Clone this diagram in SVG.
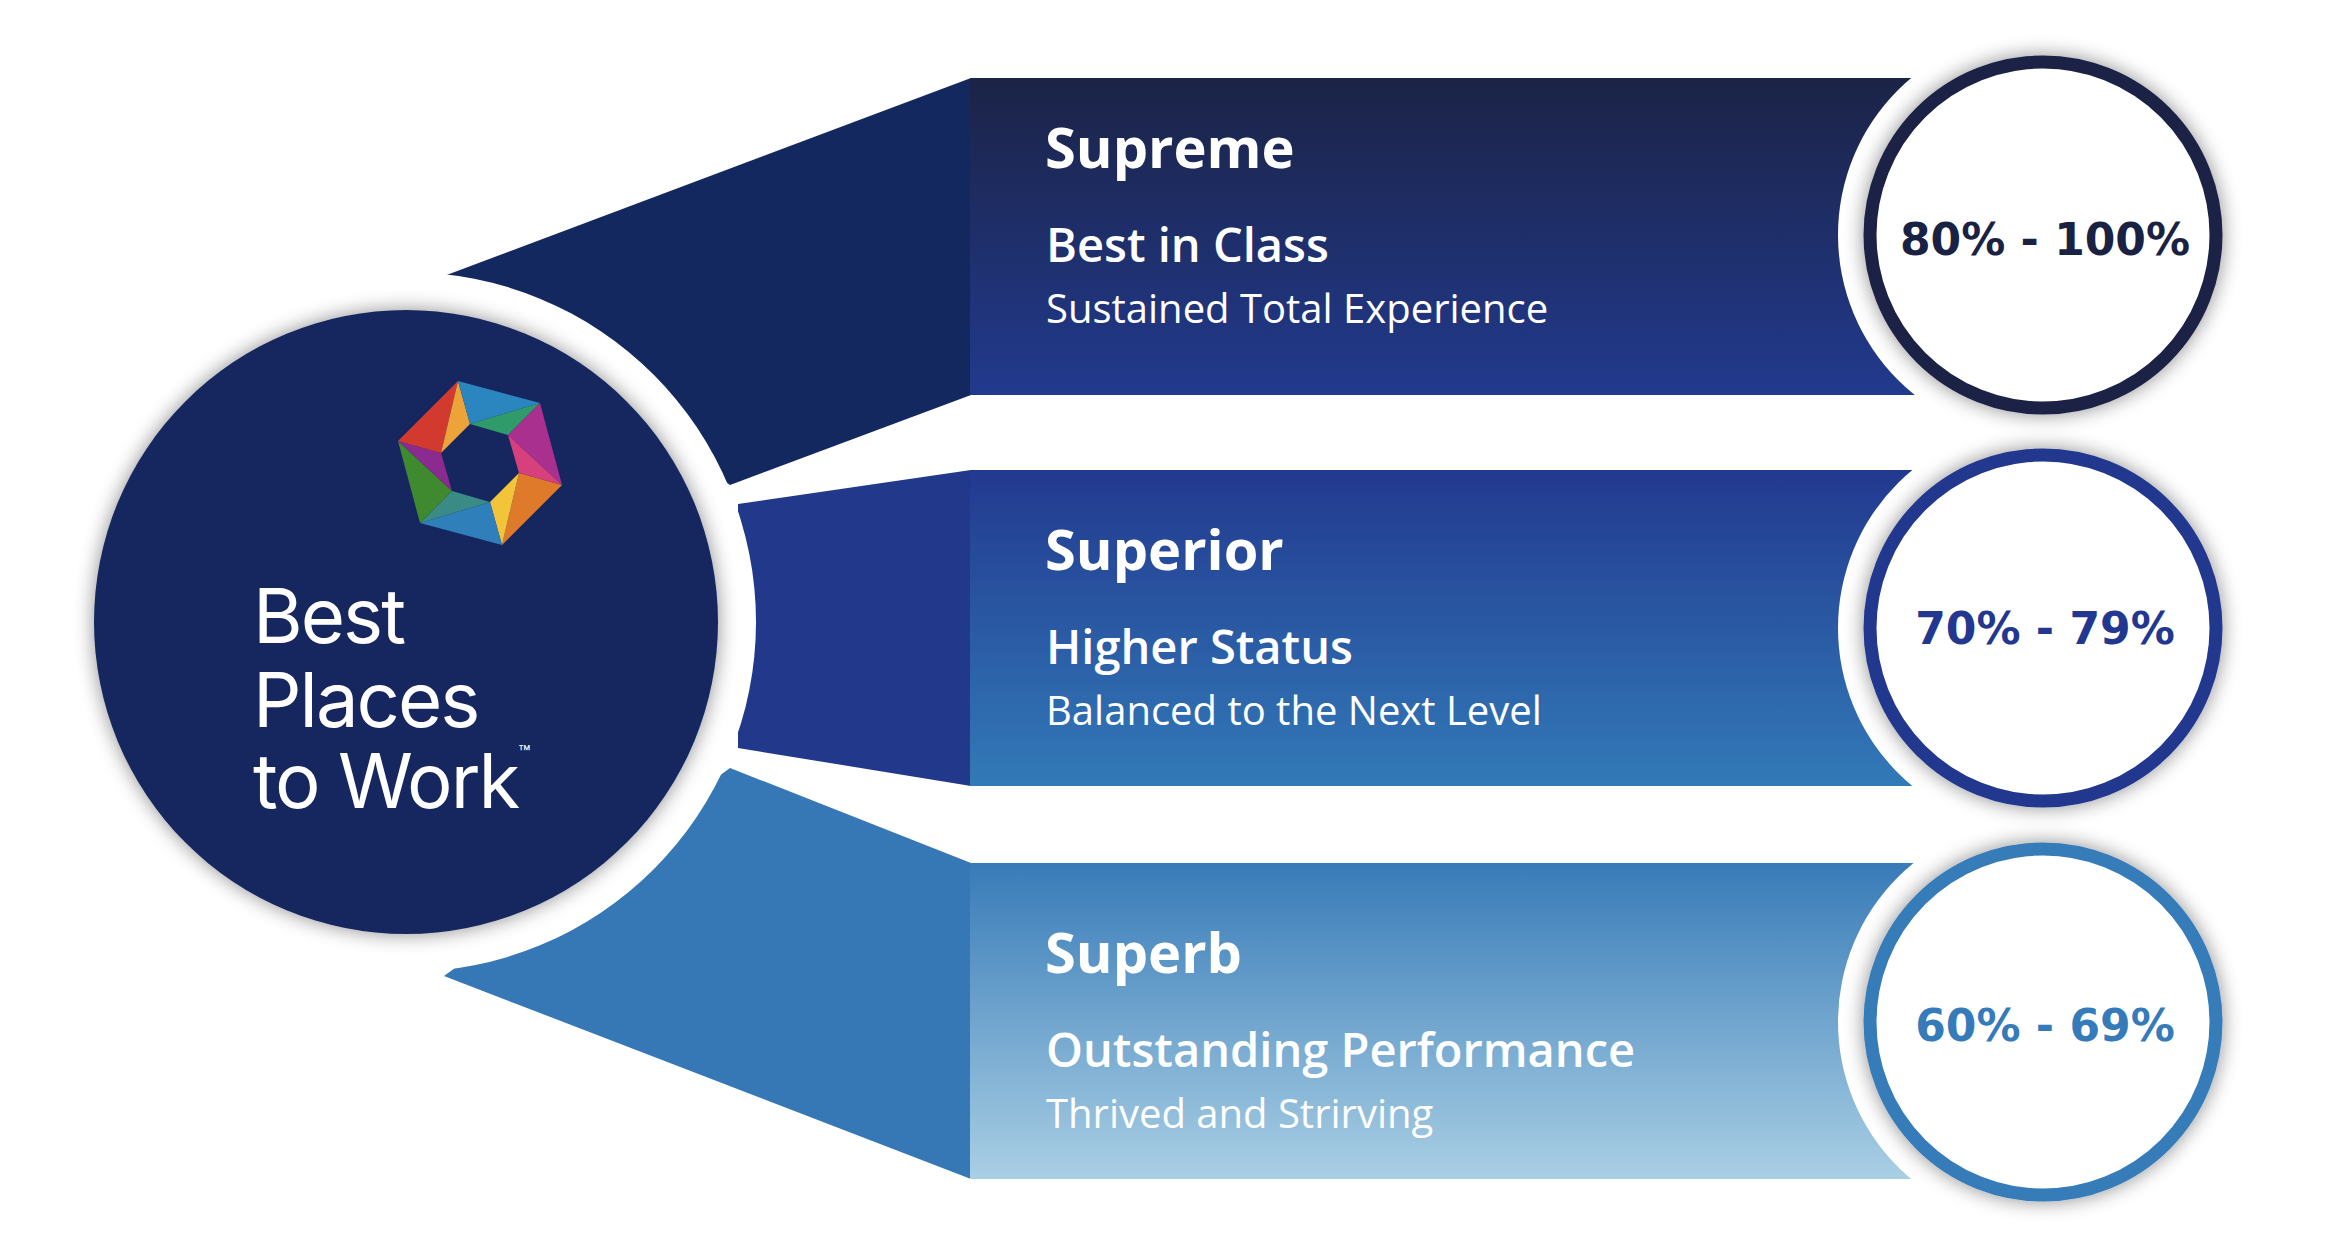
<svg xmlns="http://www.w3.org/2000/svg" width="2350" height="1254" viewBox="0 0 2350 1254">
<defs>
<linearGradient id="g1" x1="0" y1="0" x2="0" y2="1"><stop offset="0" stop-color="#1b2346"/><stop offset="1" stop-color="#223a8e"/></linearGradient>
<linearGradient id="g2" x1="0" y1="0" x2="0" y2="1"><stop offset="0" stop-color="#22398f"/><stop offset="1" stop-color="#327ab8"/></linearGradient>
<linearGradient id="g3" x1="0" y1="0" x2="0" y2="1"><stop offset="0" stop-color="#387bb8"/><stop offset="1" stop-color="#a9cfe4"/></linearGradient>
<filter id="sh" x="-20%" y="-20%" width="140%" height="140%"><feGaussianBlur in="SourceAlpha" stdDeviation="10"/><feOffset dx="0" dy="0"/><feComponentTransfer><feFuncA type="linear" slope="0.45"/></feComponentTransfer><feMerge><feMergeNode/><feMergeNode in="SourceGraphic"/></feMerge></filter>
<style>
.t{font-family:"Open Sans","Noto Sans",sans-serif;fill:#fff}
.h{font-weight:700;font-size:56px}
.s{font-weight:600;font-size:47px}
.d{font-size:40px}
.p{font-family:"DejaVu Sans",sans-serif;font-weight:700;font-size:44px;text-anchor:middle}
.ring{fill:#fff;stroke-width:13;filter:url(#sh)}
.halo{fill:#fff}
.lg{font-family:Inter,Roboto,sans-serif;fill:#fff;font-size:76px;letter-spacing:-2px}
</style>
</defs>
<rect width="2350" height="1254" fill="#fff"/>
<g id="connectors">
<polygon points="444,276 971,78 971,395 730,485" fill="#13285e"/>
<polygon points="738,504 971,470 971,786 738,748" fill="#21388b"/>
<polygon points="730,768 971,863 971,1179 444,976" fill="#3677b5"/>
</g>
<g id="bar1"><rect x="970" y="78" width="960" height="317" fill="url(#g1)"/></g>
<g id="bar2"><rect x="970" y="470" width="960" height="316" fill="url(#g2)"/></g>
<g id="bar3"><rect x="970" y="863" width="960" height="316" fill="url(#g3)"/></g>
<circle class="halo" cx="2043" cy="235" r="205"/>
<circle class="halo" cx="2043" cy="628" r="205"/>
<circle class="halo" cx="2043" cy="1022" r="205"/>
<circle class="halo" cx="406" cy="622" r="350"/>
<g id="logo">
<circle cx="406" cy="622" r="312" fill="#14285e" filter="url(#sh)"/>
<polygon points="562,485 502,545 519,473" fill="#e07a2b"/>
<polygon points="502,545 490,502 519,473" fill="#f2c43a"/>
<polygon points="502,545 420,523 490,502" fill="#2e7fba"/>
<polygon points="420,523 452,491 490,502" fill="#3a8b86"/>
<polygon points="420,523 398,441 452,491" fill="#3f8a2e"/>
<polygon points="398,441 441,453 452,491" fill="#8b2a8f"/>
<polygon points="398,441 458,381 441,453" fill="#d33a2f"/>
<polygon points="458,381 470,424 441,453" fill="#eba33a"/>
<polygon points="458,381 540,403 470,424" fill="#2b86c0"/>
<polygon points="540,403 508,435 470,424" fill="#2f9b6b"/>
<polygon points="540,403 562,485 508,435" fill="#a9308f"/>
<polygon points="562,485 519,473 508,435" fill="#d8407d"/>
<text class="lg" x="253" y="643">Best</text>
<text class="lg" x="253" y="727">Places</text>
<text class="lg" x="253" y="808">to Work<tspan font-size="20" dy="-48" letter-spacing="0">™</tspan></text>
</g>
<g id="row1">
<text class="t h" x="1045" y="168">Supreme</text>
<text class="t s" x="1046" y="262">Best in Class</text>
<text class="t d" x="1046" y="323">Sustained Total Experience</text>
<circle class="ring" cx="2043" cy="235" r="173" stroke="#1a2244"/>
<text class="p" x="2045" y="255" fill="#1a2244">80% - 100%</text>
</g>
<g id="row2">
<text class="t h" x="1045" y="570">Superior</text>
<text class="t s" x="1046" y="664">Higher Status</text>
<text class="t d" x="1046" y="725">Balanced to the Next Level</text>
<circle class="ring" cx="2043" cy="628" r="173" stroke="#22378f"/>
<text class="p" x="2045" y="644" fill="#22378f">70% - 79%</text>
</g>
<g id="row3">
<text class="t h" x="1045" y="973">Superb</text>
<text class="t s" x="1046" y="1067">Outstanding Performance</text>
<text class="t d" x="1046" y="1128">Thrived and Strirving</text>
<circle class="ring" cx="2043" cy="1022" r="173" stroke="#367bb9"/>
<text class="p" x="2045" y="1041" fill="#367bb9">60% - 69%</text>
</g>
</svg>
